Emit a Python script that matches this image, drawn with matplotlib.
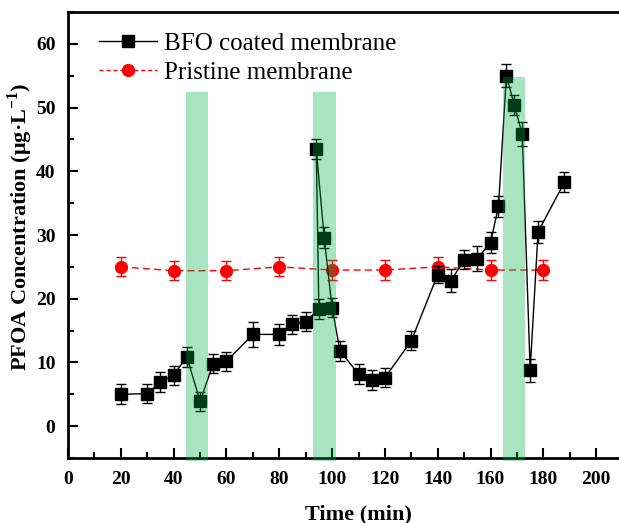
import matplotlib
matplotlib.use("Agg")
import matplotlib.pyplot as plt
from matplotlib.lines import Line2D
from matplotlib.patches import Rectangle
from matplotlib.ticker import FixedLocator, MultipleLocator

plt.rcParams["font.family"] = ["Liberation Serif", "DejaVu Serif"]
plt.rcParams["mathtext.fontset"] = "custom"
plt.rcParams["mathtext.rm"] = "Liberation Serif"
plt.rcParams["mathtext.bf"] = "Liberation Serif:bold"

# BFO coated membrane, in plotting order
bfo_t = [20, 30, 35, 40, 45, 50, 55, 60, 70, 80, 85, 90, 95, 94, 97, 100,
         103, 110, 115, 120, 130, 140, 145, 150, 155, 160, 163, 166, 169,
         172, 175, 178, 188]
bfo_c = [5.0, 5.1, 6.9, 8.0, 10.9, 3.9, 9.8, 10.2, 14.4, 14.4, 16.0, 16.4,
         18.4, 43.5, 29.6, 18.6, 11.8, 8.2, 7.2, 7.6, 13.4, 23.8, 22.8, 26.1,
         26.3, 28.8, 34.5, 55.0, 50.4, 45.8, 8.8, 30.5, 38.3]
bfo_err = [1.6, 1.5, 1.6, 1.5, 1.6, 1.5, 1.5, 1.5, 2.0, 1.6, 1.5, 1.5,
           1.6, 1.5, 1.6, 1.5, 1.6, 1.6, 1.6, 1.5, 1.5, 1.3, 1.8, 1.5,
           2.0, 1.6, 1.65, 1.8, 1.6, 1.9, 1.8, 1.75, 1.6]

# Pristine membrane
pri_t = [20, 40, 60, 80, 100, 120, 140, 160, 180]
pri_c = [25.0, 24.4, 24.4, 25.0, 24.5, 24.5, 25.0, 24.5, 24.5]
pri_err = [1.5, 1.5, 1.5, 1.5, 1.5, 1.5, 1.5, 1.5, 1.5]

# highlighted intervals (start, end, top)
band_start = [44.7, 92.8, 164.7]
band_end = [53.0, 101.5, 173.0]
band_top = [52.4, 52.4, 54.8]

fig = plt.figure(figsize=(6.19, 5.23), dpi=100)
ax = fig.add_axes([68 / 619, 65 / 523, 581 / 619, 446 / 523])

ax.errorbar(bfo_t, bfo_c, yerr=bfo_err, fmt="-s", color="black",
            ms=8, lw=1.0, elinewidth=1.0, capsize=3.5, capthick=1.0,
            zorder=3)
ax.errorbar(pri_t, pri_c, yerr=pri_err, fmt="--o", color="red",
            ms=8.5, lw=1.0, elinewidth=1.0, capsize=3.5, capthick=1.0,
            dashes=(5, 3), zorder=2)

for x0, x1, top in zip(band_start, band_end, band_top):
    ax.add_patch(Rectangle((x0, -5.5), x1 - x0, top + 5.5,
                           facecolor="#00ad4c", alpha=0.34, lw=0,
                           clip_on=False, zorder=4))

ax.set_xlim(0, 220)
ax.set_ylim(-5, 65)
ax.xaxis.set_major_locator(FixedLocator(range(0, 201, 20)))
ax.xaxis.set_minor_locator(MultipleLocator(10))
ax.yaxis.set_major_locator(MultipleLocator(10))
ax.yaxis.set_minor_locator(MultipleLocator(5))
ax.set_yticks(range(0, 61, 10))
ax.tick_params(which="both", direction="in", top=False, right=False,
               labelsize=14, width=1.5)
ax.tick_params(which="major", length=7, pad=9)
ax.tick_params(which="minor", length=4)
for lab in ax.get_xticklabels() + ax.get_yticklabels():
    lab.set_fontweight("bold")
for sp in ax.spines.values():
    sp.set_linewidth(2.0)

ax.set_xlabel("Time (min)", fontsize=16, fontweight="bold", labelpad=12)
ax.set_ylabel(r"PFOA Concentration (μg·L$^{\mathbf{-1}}$)", fontsize=16,
              fontweight="bold", va="center")
ax.yaxis.set_label_coords(-0.083, 0.518)

handles = [
    Line2D([], [], color="black", marker="s", ms=8, lw=1.0,
           label="BFO coated membrane"),
    Line2D([], [], color="red", marker="o", ms=8.5, lw=1.0,
           dashes=(3, 2), label="Pristine membrane"),
]
ax.legend(handles=handles, loc="upper left", bbox_to_anchor=(0.015, 1.005),
          frameon=False, fontsize=18, handlelength=2.3, handletextpad=0.3,
          labelspacing=0.25)

fig.savefig("out.png", dpi=100)
